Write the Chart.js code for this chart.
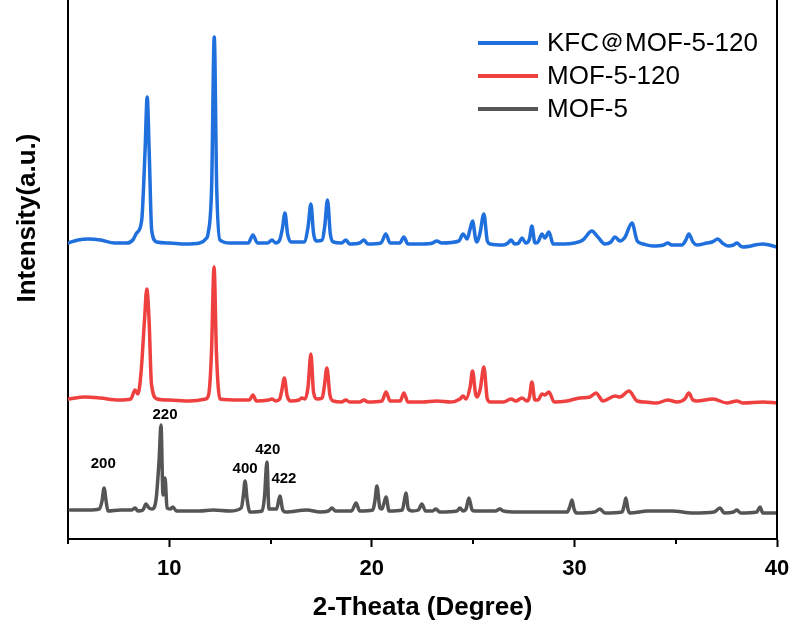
<!DOCTYPE html>
<html>
<head>
<meta charset="utf-8">
<script src="https://cdn.jsdelivr.net/npm/chart.js@4.4.1/dist/chart.umd.min.js"></script>
<style>
  html, body { margin: 0; padding: 0; background: #fff; }
</style>
</head>
<body>
<canvas id="myChart" width="795" height="632"></canvas>
<script>
// series names (legend order)
var seriesNames = ['KFC\uFF20MOF-5-120', 'MOF-5-120', 'MOF-5'];
var seriesColors = ['#1f6fdd', '#ef4040', '#555555'];

// [2-theta, intensity], curves already stacked (a.u.)
var kfcData = [[5.0,296],[5.5,299],[6.0,300],[6.6,299],[7.3,296],[7.9,296],[8.2,299],[8.39,306],[8.64,319],[8.8,386],[8.91,442],[9.01,386],[9.13,309],[9.38,297],[10.0,296],[10.8,295],[11.5,296],[11.8,300],[11.92,306],[12.09,352],[12.22,502],[12.34,352],[12.5,299],[13.0,296],[13.9,296],[14.13,304],[14.35,296],[14.85,296],[15.07,299],[15.25,296],[15.45,299],[15.58,310],[15.71,326],[15.84,305],[16.0,297],[16.65,297],[16.85,312],[16.99,335],[17.12,306],[17.3,298],[17.55,299],[17.68,314],[17.81,339],[17.95,305],[18.1,297],[18.5,296],[18.72,299],[18.9,295],[19.4,296],[19.61,299],[19.8,295],[20.45,296],[20.69,305],[20.9,296],[21.38,296],[21.58,302],[21.78,295],[22.5,295],[23.0,296],[23.2,298],[23.45,296],[24.3,298],[24.5,305],[24.7,300],[24.85,310],[24.97,318],[25.12,300],[25.19,297],[25.33,305],[25.53,325],[25.7,298],[25.85,295],[26.5,294],[26.72,296],[26.87,299],[27.05,295],[27.25,296],[27.41,301],[27.6,296],[27.78,300],[27.9,313],[28.05,296],[28.2,297],[28.4,305],[28.54,301],[28.74,307],[28.95,295],[29.5,295],[30.0,296],[30.42,299],[30.86,308],[31.16,302],[31.5,295],[31.8,297],[32.0,302],[32.25,298],[32.5,302],[32.84,316],[33.1,298],[33.4,295],[33.87,293],[34.4,294],[34.61,296],[34.8,294],[35.3,294],[35.5,299],[35.65,305],[35.85,297],[36.05,294],[36.54,296],[36.8,297],[37.08,300],[37.3,296],[37.58,293],[37.85,294],[38.02,296],[38.2,293],[38.32,292],[39.3,295],[40.0,292]];

var mof120Data = [[5.0,140],[5.84,142],[6.6,141],[7.5,139],[8.1,140],[8.31,149],[8.45,145],[8.6,165],[8.78,220],[8.89,250],[9.0,220],[9.12,155],[9.4,140],[10.0,139],[11.0,138],[11.8,140],[11.95,145],[12.08,185],[12.21,272],[12.33,185],[12.5,140],[13.5,139],[13.95,139],[14.13,144],[14.3,138],[14.9,139],[15.07,140],[15.25,138],[15.45,140],[15.55,148],[15.68,161],[15.82,143],[16.0,138],[16.4,139],[16.55,141],[16.7,140],[16.85,152],[16.99,185],[17.12,147],[17.3,140],[17.55,141],[17.65,152],[17.78,171],[17.93,144],[18.1,138],[18.5,137],[18.72,139],[18.9,137],[19.4,137],[19.61,139],[19.8,137],[20.5,138],[20.7,147],[20.9,138],[21.4,138],[21.58,146],[21.78,137],[22.5,137],[23.21,138],[23.9,137],[24.35,140],[24.5,143],[24.65,140],[24.85,152],[24.97,168],[25.12,145],[25.19,142],[25.35,150],[25.53,172],[25.7,140],[25.85,137],[26.5,137],[26.87,140],[27.11,138],[27.41,141],[27.66,138],[27.78,142],[27.9,157],[28.05,139],[28.2,139],[28.4,145],[28.54,144],[28.74,147],[29.0,137],[29.63,138],[30.27,141],[30.77,142],[31.06,146],[31.41,138],[32.0,143],[32.25,142],[32.69,148],[33.1,138],[33.5,137],[34.07,136],[34.61,139],[35.06,137],[35.45,140],[35.65,146],[35.85,139],[36.05,138],[36.84,140],[37.53,136],[38.02,138],[38.32,136],[39.3,137],[40.0,136]];

var mof5Data = [[5.1,29],[6.0,29],[6.55,30],[6.68,38],[6.78,51],[6.88,38],[6.97,28],[7.6,29],[8.15,29],[8.31,31],[8.45,28],[8.7,29],[8.85,35],[9.0,31],[9.15,30],[9.35,40],[9.5,80],[9.59,114],[9.69,44],[9.79,61],[9.89,31],[10.05,30],[10.18,32],[10.35,28],[11.5,28],[12.16,29],[13.0,28],[13.55,31],[13.66,44],[13.74,58],[13.84,40],[13.98,27],[14.58,28],[14.7,42],[14.82,77],[14.92,30],[15.3,30],[15.46,43],[15.6,29],[15.75,27],[16.8,29],[17.44,27],[17.85,28],[18.03,31],[18.2,28],[19.0,28],[19.22,36],[19.4,28],[20.05,29],[20.15,38],[20.25,53],[20.4,31],[20.5,30],[20.6,36],[20.7,42],[20.85,28],[21.5,29],[21.6,38],[21.68,46],[21.8,30],[21.98,28],[22.3,29],[22.47,35],[22.65,28],[23.0,28],[23.16,30],[23.35,27],[24.2,28],[24.35,31],[24.5,28],[24.65,30],[24.79,41],[24.95,29],[25.09,28],[26.1,28],[26.32,30],[26.5,28],[27.16,27],[28.69,27],[29.65,27],[29.78,33],[29.88,39],[29.98,30],[30.1,26],[31.0,27],[31.26,30],[31.5,26],[32.35,27],[32.45,33],[32.54,41],[32.64,30],[32.74,26],[33.63,28],[34.81,28],[35.85,26],[36.9,27],[37.18,31],[37.4,26],[37.85,27],[38.02,29],[38.2,26],[39.0,27],[39.16,32],[39.3,26],[40.0,26]];

// axis range and ticks
var xMin = 5, xMax = 40;
var xMajor = [10, 20, 30, 40];
var xMinor = [5, 15, 25, 35];

// hkl labels on the MOF-5 curve
var hklLabels = ['200', '220', '400', '420', '422'];
var hklX = [6.74, 9.79, 13.74, 14.86, 15.66];
var hklY = [75, 124, 70, 89, 60];

var FONT = 'Arial, "Liberation Sans", sans-serif';

function toXY(arr) {
    return arr.map(function (p) { return { x: p[0], y: p[1] }; });
}

var extras = {
    id: 'extras',
    afterDraw: function (chart) {
        var ctx = chart.ctx, a = chart.chartArea;
        var xs = chart.scales.x, ys = chart.scales.y;
        ctx.save();

        // right frame line
        ctx.strokeStyle = '#000';
        ctx.lineWidth = 2;
        ctx.beginPath();
        ctx.moveTo(a.right, a.top);
        ctx.lineTo(a.right, a.bottom);
        ctx.stroke();

        // minor ticks
        xMinor.forEach(function (v) {
            var px = Math.round(xs.getPixelForValue(v));
            ctx.beginPath();
            ctx.moveTo(px, a.bottom);
            ctx.lineTo(px, a.bottom + 5);
            ctx.stroke();
        });

        // hkl labels
        ctx.fillStyle = '#000';
        ctx.font = 'bold 15px ' + FONT;
        ctx.textAlign = 'center';
        ctx.textBaseline = 'middle';
        hklLabels.forEach(function (t, i) {
            ctx.fillText(t, xs.getPixelForValue(hklX[i]), ys.getPixelForValue(hklY[i]));
        });

        // legend
        ctx.font = '26px ' + FONT;
        ctx.textAlign = 'left';
        ctx.lineWidth = 4;
        seriesNames.forEach(function (name, i) {
            var yy = 43 + i * 33;
            ctx.strokeStyle = seriesColors[i];
            ctx.beginPath();
            ctx.moveTo(478, yy);
            ctx.lineTo(538, yy);
            ctx.stroke();
            ctx.fillText(name, 547, yy + 1);
        });

        // y axis title
        ctx.translate(28, 218);
        ctx.rotate(-Math.PI / 2);
        ctx.font = 'bold 26px ' + FONT;
        ctx.textAlign = 'center';
        ctx.fillText('Intensity(a.u.)', 0, 0);

        ctx.restore();
    }
};

var ctx = document.getElementById('myChart').getContext('2d');
var chart = new Chart(ctx, {
    type: 'line',
    data: {
        datasets: [
            { label: seriesNames[0], data: toXY(kfcData), borderColor: seriesColors[0] },
            { label: seriesNames[1], data: toXY(mof120Data), borderColor: seriesColors[1] },
            { label: seriesNames[2], data: toXY(mof5Data), borderColor: seriesColors[2] }
        ]
    },
    options: {
        responsive: false,
        animation: false,
        devicePixelRatio: 1,
        layout: { padding: { left: 68, right: 18, top: 0, bottom: 0 } },
        elements: {
            point: { radius: 0 },
            line: { borderWidth: 3.5, cubicInterpolationMode: 'monotone', borderJoinStyle: 'round', borderCapStyle: 'round' }
        },
        plugins: {
            legend: { display: false },
            tooltip: { enabled: false }
        },
        scales: {
            x: {
                type: 'linear',
                min: xMin,
                max: xMax,
                afterBuildTicks: function (scale) {
                    scale.ticks = xMajor.map(function (v) { return { value: v }; });
                },
                afterFit: function (scale) {
                    scale.height = 93;
                    scale.paddingLeft = 0;
                    scale.paddingRight = 0;
                },
                grid: { drawOnChartArea: false, tickLength: 8, tickWidth: 2, tickColor: '#000' },
                border: { color: '#000', width: 2 },
                ticks: {
                    padding: 9,
                    color: '#000',
                    font: { family: FONT, size: 22, weight: 'bold' }
                },
                title: {
                    display: true,
                    text: '2-Theata (Degree)',
                    color: '#000',
                    font: { family: FONT, size: 26, weight: 'bold' },
                    padding: { top: 0, bottom: 9 }
                }
            },
            y: {
                min: 0,
                max: 539,
                grid: { display: true, drawOnChartArea: false, drawTicks: false },
                border: { color: '#000', width: 2 },
                ticks: { display: false }
            }
        }
    },
    plugins: [extras]
});
</script>
</body>
</html>
